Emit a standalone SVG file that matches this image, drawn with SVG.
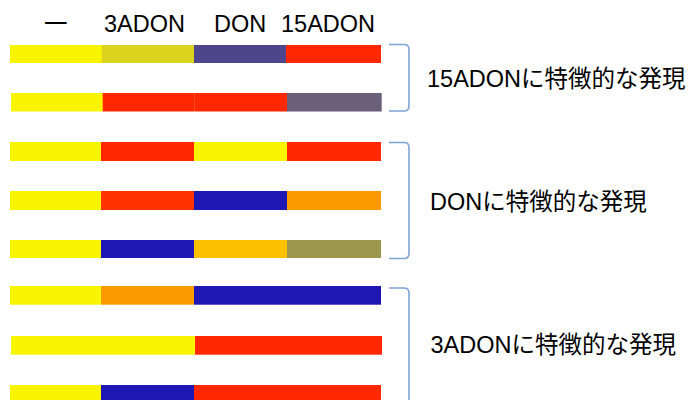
<svg xmlns="http://www.w3.org/2000/svg" width="690" height="400" viewBox="0 0 690 400">
<style>
text{font-family:"Liberation Sans","Noto Sans CJK JP",sans-serif;fill:#000}
.h{font-size:23.5px}
.l{font-size:23.5px}
.y{fill:#F9F400}.oy{fill:#DBD31E}.pu{fill:#4D468D}.r{fill:#FF2800}.r2{fill:#FF3300}
.gp{fill:#6B6079}.b{fill:#1E17B4}.o{fill:#FD9A00}.am{fill:#FBC000}.ol{fill:#9C974B}
.br{fill:none;stroke:#7DA4D4;stroke-width:1.6}
</style>
<rect width="690" height="400" fill="#fff"/>
<g id="header">
<text class="h" x="44" y="31.5" font-family="Noto Sans CJK JP">一</text>
<text class="h" x="104" y="31.5">3ADON</text>
<text class="h" x="214" y="31.5">DON</text>
<text class="h" x="281" y="31.5">15ADON</text>
</g>
<g id="row1">
<rect class="y" x="10" y="45" width="92" height="18"/>
<rect class="oy" x="101.7" y="45" width="92.5" height="18"/>
<rect class="pu" x="194" y="45" width="92.2" height="18"/>
<rect class="r" x="286" y="45" width="95" height="18"/>
</g>
<g id="row2">
<rect class="y" x="11" y="93" width="92" height="18.5"/>
<rect class="r" x="102.7" y="93" width="92" height="18.5"/>
<rect class="r" x="194.5" y="93" width="92.7" height="18.5"/>
<rect class="gp" x="287" y="93" width="94.7" height="18.5"/>
</g>
<g id="row3">
<rect class="y" x="10" y="142" width="91.2" height="19"/>
<rect class="r" x="101" y="142" width="93.2" height="19"/>
<rect class="y" x="194" y="142" width="93.2" height="19"/>
<rect class="r" x="287" y="142" width="94" height="19"/>
</g>
<g id="row4">
<rect class="y" x="10" y="191" width="91.2" height="19"/>
<rect class="r2" x="101" y="191" width="93.2" height="19"/>
<rect class="b" x="194" y="191" width="93.2" height="19"/>
<rect class="o" x="287" y="191" width="94" height="19"/>
</g>
<g id="row5">
<rect class="y" x="10" y="240" width="91.2" height="18"/>
<rect class="b" x="101" y="240" width="93.2" height="18"/>
<rect class="am" x="194" y="240" width="93.2" height="18"/>
<rect class="ol" x="287" y="240" width="94" height="18"/>
</g>
<g id="row6">
<rect class="y" x="10" y="286" width="91.2" height="18.7"/>
<rect class="o" x="101" y="286" width="93.2" height="18.7"/>
<rect class="b" x="194" y="286" width="187" height="18.7"/>
</g>
<g id="row7">
<rect class="y" x="11" y="336" width="184.2" height="18.7"/>
<rect class="r" x="195" y="336" width="187" height="18.7"/>
</g>
<g id="row8">
<rect class="y" x="10" y="385" width="91.2" height="19"/>
<rect class="b" x="101" y="385" width="93.2" height="19"/>
<rect class="r" x="194" y="385" width="187" height="19"/>
</g>
<g id="connectors">
<path class="br" d="M389,44.5 H404 Q409,44.5 409,49.5 V106 Q409,111 404,111 H389"/>
<path class="br" d="M389,142.5 H404 Q409,142.5 409,147.5 V253.5 Q409,258.5 404,258.5 H389"/>
<path class="br" d="M389,288 H404 Q409,288 409,293 V405"/>
</g>
<g id="label1"><text class="l" x="427" y="87.3">15ADONに特徴的な発現</text></g>
<g id="label2"><text class="l" x="430" y="210">DONに特徴的な発現</text></g>
<g id="label3"><text class="l" x="430.5" y="353.3">3ADONに特徴的な発現</text></g>
</svg>
